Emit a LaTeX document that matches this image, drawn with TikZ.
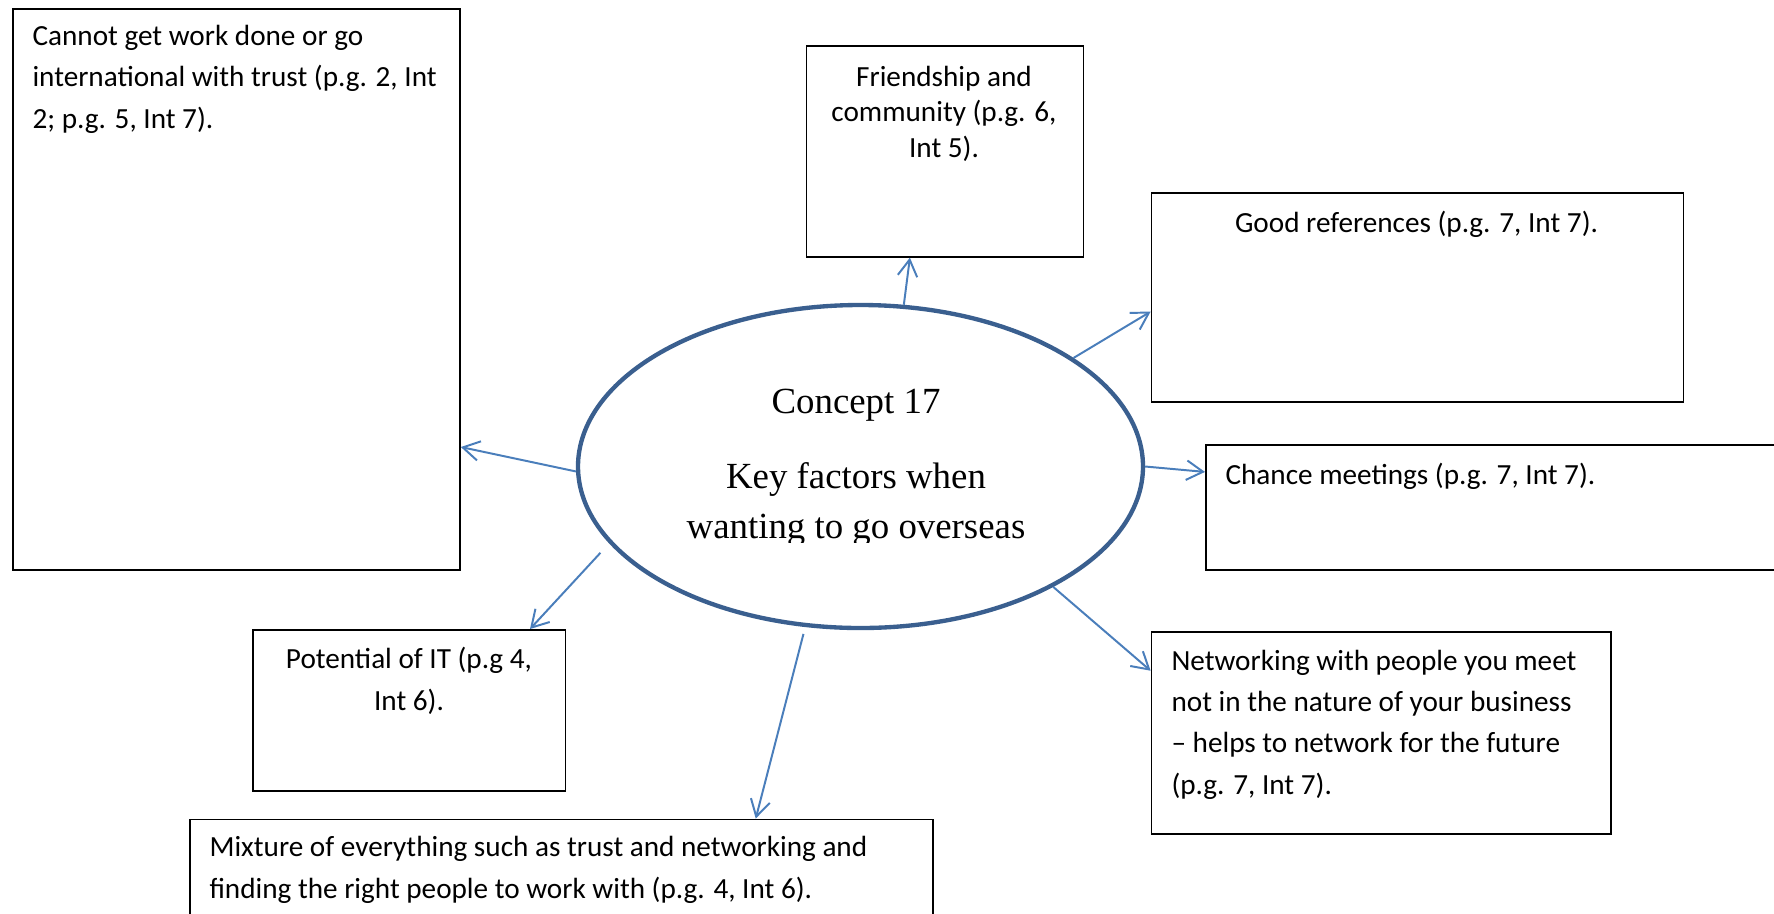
\documentclass[tikz,border=0pt]{standalone}
\usepackage{fontspec}
\setmainfont{Carlito}
\newfontfamily\serifface{Liberation Serif}
\usetikzlibrary{arrows.meta,calc,shapes.geometric}
\definecolor{ringblue}{HTML}{3A5F8F}
\definecolor{linkblue}{HTML}{4A7EBB}
\newcommand\pxl{0.38pt}

\begin{document}
\begin{tikzpicture}[x=0.38pt,y=-0.38pt,
  card/.style={draw=black, line width=0.7pt, rectangle, inner sep=0pt, anchor=north west},
  note/.style={inner sep=0pt, font=\fontsize{11.1pt}{15.6pt}\selectfont},
  tight/.style={font=\fontsize{11.1pt}{13.4pt}\selectfont},
  heading/.style={inner sep=0pt, anchor=base, font=\serifface\fontsize{14pt}{17pt}\selectfont},
  link/.style={draw=linkblue, line width=0.75pt, -{Straight Barb[length=6.3pt,width=7.4pt]}},
]
\clip (0,0) rectangle (1774,913);

% outer boxes
\node[card, minimum width=447*\pxl, minimum height=561*\pxl] (A) at (12,8) {};
\node[card, minimum width=277*\pxl, minimum height=210.5*\pxl] (F) at (805.6,45.3) {};
\node[card, minimum width=532*\pxl, minimum height=209*\pxl] (G) at (1150.6,192.3) {};
\node[card, minimum width=600*\pxl, minimum height=125*\pxl] (C) at (1205,444) {};
\node[card, minimum width=459.5*\pxl, minimum height=201.7*\pxl] (N) at (1150.6,631) {};
\node[card, minimum width=312.3*\pxl, minimum height=160.7*\pxl] (P) at (252.3,629) {};
\node[card, minimum width=743.4*\pxl, minimum height=120*\pxl] (M) at (188.9,818.5) {};

% box texts (multi-line nodes are placed by the baseline of their last line)
\node[note, anchor=base west, align=left] (At) at (32,128)
  {Cannot get work done or go\\international with trust (p.g. 2, Int\\2; p.g. 5, Int 7).};
\node[note, tight, anchor=base, align=center] (Ft) at (944,157)
  {Friendship and\\community (p.g. 6,\\Int 5).};
\node[note, anchor=base] (Gt) at (1416.5,232) {Good references (p.g. 7, Int 7).};
\node[note, anchor=base west] (Ct) at (1225,484) {Chance meetings (p.g. 7, Int 7).};
\node[note, anchor=base west, align=left] (Nt) at (1171,794)
  {Networking with people you meet\\not in the nature of your business\\– helps to network for the future\\(p.g. 7, Int 7).};
\node[note, anchor=base, align=center] (Pt) at (409,710) {Potential of IT (p.g 4,\\Int 6).};
\node[note, anchor=base west, align=left] (Mt) at (209,898)
  {Mixture of everything such as trust and networking and\\finding the right people to work with (p.g. 4, Int 6).};

% central concept
\node[draw=ringblue, line width=1.65pt, ellipse, inner sep=0pt,
      minimum width=565*\pxl, minimum height=323*\pxl] (core) at (860.5,466.5) {};
\begin{scope}
  \clip (620,370) rectangle (1100,542);
  \node[heading] (h1) at (856,413) {Concept 17};
  \node[heading] (h2) at (856,488) {Key factors when};
  \node[heading] (h3) at (856,538) {wanting to go overseas};
\end{scope}

% connectors
\draw[link] (core.181) -- ($(A.north east)!0.78!(A.south east)$);
\draw[link, shorten <=4.9pt] (core.197) -- ($(P.north west)!0.884!(P.north east)$);
\draw[link, shorten <=2.7pt] (core.251) -- ($(M.north west)!0.7606!(M.north east)$);
\draw[link] (core.75) -- ($(F.south west)!0.374!(F.south east)$);
\draw[link] (core.27) -- ($(G.north west)!0.566!(G.south west)$);
\draw[link] (core.0) -- ($(C.north west)!0.22!(C.south west)$);
\draw[link] (core.328) -- ($(N.north west)!0.195!(N.south west)$);
\end{tikzpicture}
\end{document}
